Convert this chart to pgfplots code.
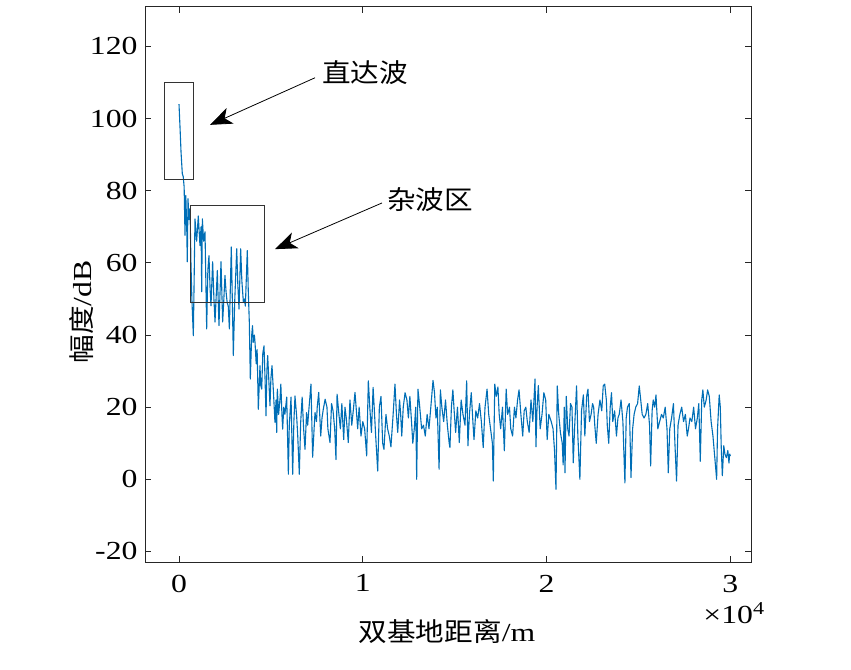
\documentclass[border=0pt]{standalone}
\usepackage{fontspec}
\setmainfont{Liberation Serif}[FakeStretch=1.22]
\newfontfamily\cjk{Noto Sans CJK SC}[FakeStretch=1.1]
\usepackage{pgfplots}
\pgfplotsset{compat=1.18}
\usetikzlibrary{arrows.meta}
\definecolor{mblue}{RGB}{0,110,182}
\begin{document}
\begin{tikzpicture}[font=\fontsize{26bp}{30bp}\selectfont]
\path[use as bounding box] (0,0) rectangle (851bp,670bp);
\begin{axis}[at={(145bp,107.7bp)}, anchor=south west, scale only axis,
  width=606bp, height=555.6bp,
  xmin=-1850, xmax=31120, ymin=-23, ymax=131,
  scaled x ticks=false, scaled y ticks=false,
  xtick={0,10000,20000,30000}, xticklabels={0,1,2,3},
  ytick={-20,0,20,40,60,80,100,120},
  yticklabels={-20,0,20,40,60,80,100,120},
  tick align=inside, major tick length=6bp,
  /pgf/number format/assume math mode=true,
  tick label style={font=\fontsize{26bp}{30bp}\selectfont},
  xticklabel style={yshift=-9bp},
  yticklabel style={xshift=-4bp},
  axis line style={black!85, line width=0.8bp},
  tick style={black!85, line width=0.8bp},
]
\addplot[mblue, line width=1.1bp, line join=round] table {
x y
0 104
60 97
110 90.7
180 84.7
230 83.9
280 81
326 67.6
370 78.7
420 70
450 60.3
490 77.8
540 72
600 75
650 60
700 50
780 39.8
870 72.2
960 66
1050 73
1140 64.8
1200 70
1235 52
1270 72.2
1340 66
1415 68.6
1505 41.7
1570 58
1630 62
1690 53
1740 48.1
1830 60.3
1900 50
1960 43.6
2085 57.9
2130 50
2175 42.6
2285 60.3
2330 52
2375 43.6
2440 50
2500 56.5
2560 52
2620 49
2680 48
2740 41.7
2845 64.4
2900 50
2955 34.3
3030 49.2
3140 63.9
3200 54
3265 47.2
3355 63.9
3420 55
3500 49.2
3560 50
3610 48
3715 63.4
3770 52
3825 43.6
3880 27.8
3955 40
4000 42.6
4040 38
4100 40
4135 38
4200 32
4250 36
4315 19.4
4405 31.5
4450 26
4500 25
4560 35
4625 37
4680 28
4735 17.6
4780 30
4825 34.3
4900 26
4950 20.4
5000 28
5060 31.5
5140 24
5220 15.8
5280 22
5315 13
5350 25
5420 18
5495 22.2
5540 26.4
5600 18
5640 13.9
5700 20
5760 18
5860 22.8
5950 1.4
6000 15
6095 22.8
6185 1.4
6250 16
6310 23.1
6400 17.6
6460 12
6545 1.4
6620 15.8
6700 22.8
6780 14
6855 8.3
6940 18.5
7000 15
7060 19
7180 26.4
7270 6.1
7360 15
7400 18.5
7480 16
7520 20
7600 24.1
7710 12
7780 17
7850 19.4
7950 22.2
8050 20
8100 14
8215 10.2
8300 21
8380 19
8470 14
8540 5.5
8600 23.6
8700 18
8780 14
8860 21
8960 11
9030 20
9100 17
9210 10.2
9300 22
9400 15
9500 20
9575 24.1
9650 19
9720 14
9800 20
9900 12
10000 16
10100 14
10210 6.5
10300 27.3
10380 20
10470 13
10560 25.5
10640 18
10700 12
10810 2.3
10900 20
10990 23
11080 10
11150 8.3
11260 18
11350 14
11440 12
11530 9
11650 18
11750 26.4
11830 18
11900 13
12000 22
12060 18
12120 12
12200 20
12300 24
12400 22
12480 17
12560 23
12650 16
12720 10
12800 14
12880 20
12930 0
13000 25
13080 21
13200 14
13300 15
13400 12
13500 18
13600 14
13700 20
13820 27.4
13900 24
13980 17
14050 20
14150 2.8
14220 24.8
14300 20
14400 16
14500 22
14600 15
14700 10
14740 8.8
14820 20
14900 24.8
14970 19
15050 13
15150 20
15250 10.2
15350 22
15450 18
15560 15
15650 27.3
15720 9.3
15800 18
15900 24
16000 15
16050 11
16150 19
16250 17
16350 21
16450 16
16550 8.8
16650 20
16760 25
16850 18
16950 14
17050 10
17100 -0.5
17180 26.4
17260 23
17350 25.6
17420 18
17500 14
17600 20
17700 7.9
17800 25
17880 18
17980 20
18050 14
18150 12
18250 20
18330 17
18420 22
18500 24.8
18600 18
18700 12
18780 19
18870 20
18950 16
19050 13
19150 22
19250 16
19370 27.8
19420 9
19480 20
19550 26
19650 14
19750 18
19850 24
19950 22
20030 11
20120 18
20250 16
20350 14
20430 8
20510 -2.8
20580 25.9
20660 18
20750 13
20850 10
20900 4
20960 20
21000 1.8
21070 23
21150 14
21220 12
21300 21
21380 20
21450 4.6
21520 14
21630 25.9
21700 12
21810 0
21900 19
22000 23.4
22080 12
22180 23
22250 25
22330 16
22420 18
22500 21
22560 20
22620 15
22700 10
22800 18
22900 22
23000 19
23080 25.9
23160 26.4
23250 22
23300 15
23380 10
23460 20
23530 24
23600 16
23700 19
23800 12
23880 17
23950 18
24050 22
24150 16
24200 8
24260 -1
24330 17
24400 20
24500 21
24590 0.5
24680 14
24760 18
24850 20
24950 21
25040 25.9
25120 22
25200 18
25300 17
25400 18
25500 21
25600 15
25660 3.7
25740 19
25800 22
25880 20
25950 23.4
26050 14
26150 16
26250 18
26350 17
26450 20
26550 14
26620 1.8
26700 14
26800 17
26900 21
26980 10
27070 -0.5
27150 15
27250 18
27350 20
27450 16
27550 18
27650 12
27720 14
27800 17
27900 16
28000 20
28100 14
28200 17
28280 21
28360 5
28440 22
28500 24.8
28580 20
28680 22
28760 24.8
28850 23
28950 16
29050 12
29150 6
29250 0
29300 14
29390 23.4
29450 20
29500 9
29560 1
29640 9.3
29700 7
29780 6
29860 8
29920 4.5
29960 7
30000 6.5
};
\draw[black!80, line width=0.9bp] (axis cs:-800,83) rectangle (axis cs:800,110);
\draw[black!80, line width=0.9bp] (axis cs:640,49) rectangle (axis cs:4640,76);
\draw[line width=0.8bp, -{Stealth[length=22bp,width=17bp,inset=6bp]}] (axis cs:7400,111.3) -- (axis cs:1687,98.25);
\draw[line width=0.8bp, -{Stealth[length=22bp,width=17bp,inset=6bp]}] (axis cs:11045,76.6) -- (axis cs:5223,63.8);
\node[anchor=west, inner sep=0pt] at (axis cs:7780,112.7) {\cjk 直达波};
\node[anchor=west, inner sep=0pt] at (axis cs:11317,77.4) {\cjk 杂波区};
\end{axis}
\node[rotate=90] at (82bp,358bp) {{\cjk 幅度}/dB};
\node at (447bp,38bp) {{\cjk 双基地距离}/m};
\node at (734bp,57bp) {×10\textsuperscript{4}};
\end{tikzpicture}
\end{document}
